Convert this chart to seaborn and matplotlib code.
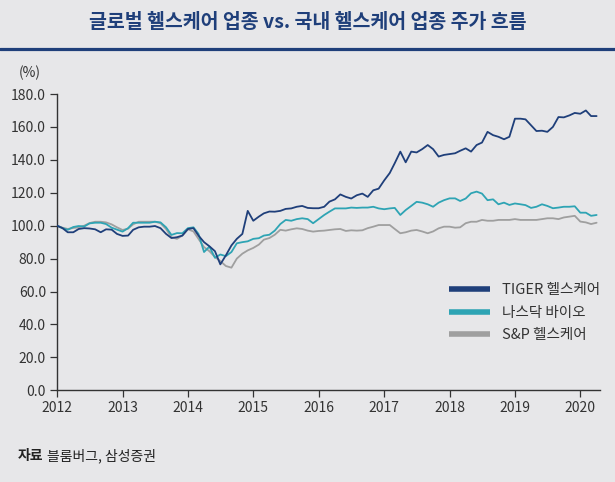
import numpy as np
import pandas as pd
import matplotlib
matplotlib.use("Agg")
import matplotlib.pyplot as plt
from matplotlib.lines import Line2D
import seaborn as sns

# ---------------- data ----------------
dates = pd.date_range("2012-01-01", periods=100, freq="MS")

tiger = [100.0, 98.5, 96.0, 96.0, 98.0, 98.5, 98.3, 97.8, 96.0, 97.8,
         97.6, 95.0, 93.8, 94.0, 97.5, 99.0, 99.4, 99.4, 99.8, 98.5,
         95.0, 92.5, 93.0, 94.0, 98.0, 98.5, 94.0, 90.0, 87.5, 84.5,
         76.5, 82.0, 88.0, 92.0, 95.0, 109.0, 103.0, 105.5, 107.5, 108.6,
         108.5, 109.0, 110.2, 110.5, 111.5, 112.0, 110.8, 110.6, 110.6, 111.5,
         114.6, 116.0, 119.0, 117.5, 116.5, 118.5, 119.5, 117.5, 121.5, 122.5,
         127.5, 132.0, 138.0, 145.0, 138.5, 145.0, 144.5, 146.5, 149.0, 146.5,
         142.0, 143.0, 143.5, 144.0, 145.5, 147.0, 145.0, 149.0, 150.5, 157.0,
         155.0, 154.0, 152.5, 154.0, 165.0, 165.0, 164.6, 161.0, 157.5, 157.7,
         157.0, 160.0, 166.0, 165.8, 167.0, 168.5, 168.0, 170.0, 166.6, 166.6]

nasdaq_bio = [100.0, 98.5, 97.5, 99.2, 99.8, 99.5, 101.4, 101.8, 101.8, 101.0,
              98.8, 97.6, 96.4, 98.5, 101.8, 101.8, 101.8, 101.8, 102.4, 102.0,
              99.0, 94.4, 95.5, 95.4, 98.5, 99.0, 95.0, 84.0, 87.3, 80.5,
              82.5, 81.5, 84.0, 89.3, 90.0, 90.5, 92.0, 92.4, 94.0, 94.5,
              97.0, 101.0, 103.5, 103.0, 104.0, 104.5, 104.0, 101.5, 104.0, 106.5,
              108.5, 110.5, 110.5, 110.5, 111.0, 110.8, 111.0, 111.0, 111.5, 110.5,
              110.0, 110.5, 110.8, 106.5, 109.5, 112.0, 114.5, 114.0, 113.0, 111.5,
              114.0, 115.5, 116.6, 116.6, 115.0, 116.5, 119.7, 120.7, 119.5, 115.5,
              116.0, 113.0, 114.0, 112.6, 113.5, 113.0, 112.5, 110.8, 111.5, 113.0,
              112.0, 110.6, 111.0, 111.5, 111.5, 111.8, 107.9, 107.9, 106.0, 106.5]

sp_health = [100.0, 98.8, 98.0, 98.6, 99.0, 100.0, 101.6, 102.4, 102.4, 102.0,
             100.8, 99.0, 97.4, 98.2, 100.8, 102.4, 102.4, 102.4, 102.4, 101.5,
             98.0, 93.0, 92.0, 94.0, 97.8, 96.5, 92.0, 87.0, 84.5, 81.0,
             78.5, 75.5, 74.5, 80.0, 83.0, 85.0, 86.5, 88.5, 91.5, 92.5,
             94.5, 97.5, 97.0, 97.8, 98.4, 98.0, 97.0, 96.4, 96.8, 97.0,
             97.4, 97.8, 98.0, 96.8, 97.2, 97.0, 97.2, 98.5, 99.4, 100.4,
             100.4, 100.4, 98.0, 95.4, 96.0, 97.0, 97.4, 96.5, 95.4, 96.5,
             98.4, 99.4, 99.4, 98.8, 99.0, 101.5, 102.4, 102.4, 103.5, 103.0,
             103.0, 103.5, 103.5, 103.5, 104.0, 103.5, 103.5, 103.5, 103.5, 104.0,
             104.5, 104.5, 104.0, 105.0, 105.5, 106.0, 102.5, 102.0, 101.0, 101.8]

series_names = ["TIGER 헬스케어", "나스닥 바이오", "S&P 헬스케어"]
yticks = [0, 20, 40, 60, 80, 100, 120, 140, 160, 180]
year_ticks = list(range(2012, 2021))

title = "글로벌 헬스케어 업종 vs. 국내 헬스케어 업종 주가 흐름"

# ---------------- style ----------------
BG = "#e7e7e9"
NAVY = "#1f3f7a"
TEAL = "#2ea4b4"
GRAY = "#9f9f9f"
TXT = "#333333"

sns.set_theme(style="white")
plt.rcParams["font.family"] = ["Liberation Sans Narrow", "Noto Sans CJK KR", "DejaVu Sans"]
plt.rcParams["axes.unicode_minus"] = False

df = pd.DataFrame({
    "date": list(dates) * 3,
    "value": tiger + nasdaq_bio + sp_health,
    "series": [series_names[0]] * len(dates) + [series_names[1]] * len(dates)
              + [series_names[2]] * len(dates),
})

fig = plt.figure(figsize=(6.15, 4.82), dpi=100, facecolor=BG)
ax = fig.add_axes([57 / 615, (482 - 390.3) / 482, (600 - 57) / 615, (390.3 - 94) / 482])
ax.set_facecolor(BG)

sns.lineplot(data=df, x="date", y="value", hue="series", hue_order=series_names,
             palette=[NAVY, TEAL, GRAY], linewidth=1.3, ax=ax, legend=True)

for ln, z in zip(ax.lines[:3], [3, 2, 1]):
    ln.set_zorder(z)

ax.set_ylim(0, 180)
ax.set_yticks(yticks)
ax.set_yticklabels([f"{v:.1f}" for v in yticks])
ax.set_xlim(pd.Timestamp("2012-01-01"), pd.Timestamp("2020-04-20"))
ax.set_xticks([pd.Timestamp(f"{y}-01-01") for y in year_ticks])
ax.set_xticklabels([str(y) for y in year_ticks])
ax.set_xlabel("")
ax.set_ylabel("")

for s in ["top", "right"]:
    ax.spines[s].set_visible(False)
for s in ["left", "bottom"]:
    ax.spines[s].set_color(TXT)
    ax.spines[s].set_linewidth(1.0)
ax.tick_params(axis="both", which="major", direction="out", length=5, width=0.9,
               color=TXT, labelcolor=TXT, labelsize=10, pad=3,
               left=True, bottom=True)

# legend
handles, labels = ax.get_legend_handles_labels()
leg = ax.legend(handles, labels, loc="upper left",
                bbox_to_anchor=(449 / 615, (482 - 283) / 482),
                bbox_transform=fig.transFigure, frameon=False, fontsize=10.5,
                handlelength=2.8, handletextpad=0.85, labelspacing=0.6,
                borderpad=0, borderaxespad=0)
for ln in leg.get_lines():
    ln.set_linewidth(4)
    ln.set_solid_capstyle("butt")
for t in leg.get_texts():
    t.set_color(TXT)

fig.text(30 / 615, (482 - 73) / 482, "(%)", ha="center", va="center",
         fontsize=10, color=TXT)

# title + rule
fig.text(0.5, (482 - 22) / 482, title, ha="center", va="center",
         fontsize=14.0, fontweight="bold", color=NAVY,
         family=["Noto Sans CJK KR", "DejaVu Sans"])
fig.add_artist(Line2D([0, 1], [(482 - 49) / 482] * 2, transform=fig.transFigure,
                      color=NAVY, linewidth=2.3))

# footer
fig.text(18 / 615, (482 - 456) / 482, "자료", ha="left", va="center",
         fontsize=10, fontweight="bold", color="#222222",
         family=["Noto Sans CJK KR", "DejaVu Sans"])
fig.text(47 / 615, (482 - 456) / 482, "블룸버그, 삼성증권", ha="left", va="center",
         fontsize=10, color="#222222", family=["Noto Sans CJK KR", "DejaVu Sans"])

fig.savefig("out.png", dpi=100, facecolor=BG)
